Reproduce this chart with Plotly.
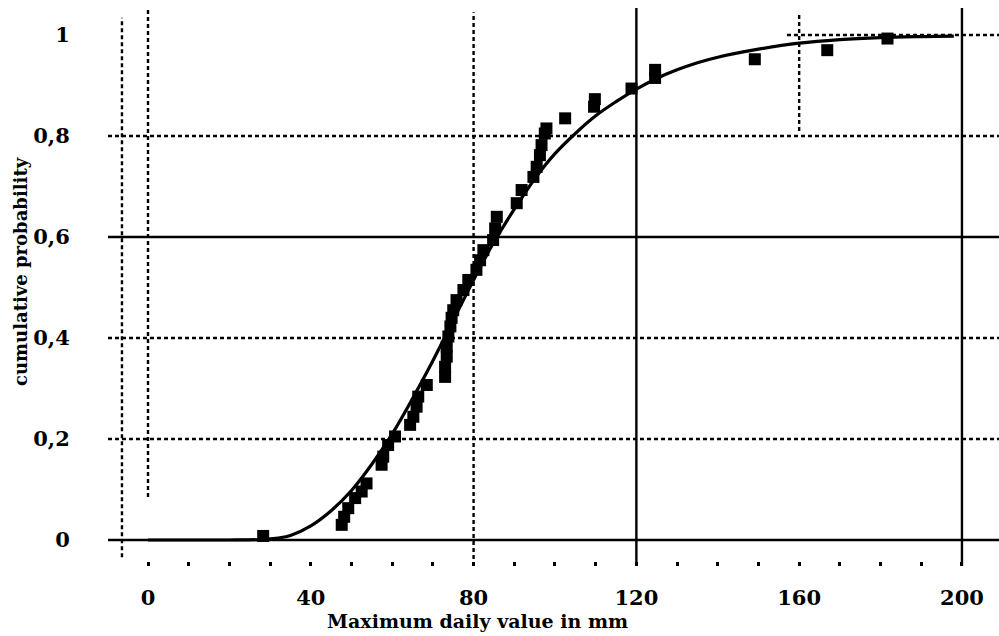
import plotly.graph_objects as go

# ---- data ----
curve_x = [0, 10, 20, 28, 32, 35, 40, 45, 50, 55, 60, 65, 70, 75, 80, 85, 90, 95,
           100, 105, 110, 115, 120, 125, 130, 135, 140, 150, 160, 170, 180, 190, 198]
curve_y = [0, 0, 0, 0.001, 0.004, 0.009, 0.028, 0.058, 0.098, 0.15, 0.21, 0.28, 0.355,
           0.435, 0.515, 0.59, 0.655, 0.715, 0.765, 0.805, 0.84, 0.868, 0.893, 0.914,
           0.931, 0.945, 0.956, 0.972, 0.984, 0.991, 0.995, 0.997, 0.998]

obs_x = [28.3, 47.6, 48.2, 49.2, 50.9, 52.5, 53.7, 57.4, 57.8, 59.0, 60.7, 64.4, 65.2,
         66.0, 66.4, 68.5, 73.0, 73.0, 73.4, 73.4, 73.8, 74.3, 74.6, 75.0, 75.8, 77.5,
         78.7, 80.7, 81.6, 82.4, 84.8, 85.3, 85.7, 90.6, 91.8, 94.7, 95.5, 96.3, 96.7,
         97.5, 97.9, 102.5, 109.6, 109.8, 118.8, 124.6, 124.6, 149.1, 166.9, 181.7]
obs_y = [0.008, 0.030, 0.046, 0.063, 0.083, 0.096, 0.112, 0.149, 0.165, 0.188, 0.205,
         0.228, 0.244, 0.264, 0.284, 0.307, 0.323, 0.343, 0.363, 0.383, 0.403, 0.423,
         0.44, 0.455, 0.475, 0.495, 0.515, 0.535, 0.554, 0.574, 0.594, 0.617, 0.640,
         0.667, 0.693, 0.719, 0.739, 0.762, 0.782, 0.805, 0.815, 0.835, 0.858, 0.873,
         0.894, 0.915, 0.931, 0.952, 0.970, 0.993]

x_ticks = [0, 40, 80, 120, 160, 200]
y_ticks = [0, 0.2, 0.4, 0.6, 0.8, 1]

x_title = "Maximum daily value in mm"
y_title = "cumulative probability"

# ---- figure ----
FONT = "DejaVu Serif"
DOT = "4px,3px"
fig = go.Figure()

fig.add_trace(go.Scatter(x=curve_x, y=curve_y, mode="lines", line_shape="spline",
                         line=dict(color="black", width=3.2), hoverinfo="skip",
                         showlegend=False))
fig.add_trace(go.Scatter(x=obs_x, y=obs_y, mode="markers",
                         marker=dict(symbol="square", size=12, color="black",
                                     line=dict(width=0)),
                         showlegend=False))

X0, X1 = -9.83, 209.1
Y0, Y1 = -0.0515, 1.0535

shapes = []
def vline(x, y0, y1, dash):
    shapes.append(dict(type="line", xref="x", yref="y", x0=x, x1=x, y0=y0, y1=y1,
                       line=dict(color="black", width=2.4, dash=dash), layer="below"))
def hline(y, x0, x1, dash):
    shapes.append(dict(type="line", xref="x", yref="y", x0=x0, x1=x1, y0=y, y1=y,
                       line=dict(color="black", width=2.4, dash=dash), layer="below"))

# horizontal grid
for yv in y_ticks:
    if yv in (0, 0.6):
        hline(yv, X0, X1, "solid")
    elif yv == 1:
        hline(yv, 157, X1, DOT)
    else:
        hline(yv, X0, X1, DOT)
# vertical grid
vline(-6.4, -0.034, 1.034, DOT)
for xv in x_ticks:
    if xv == 0:
        vline(xv, 0.085, 1.05, DOT)
    elif xv == 80:
        vline(xv, Y0, 1.045, DOT)
    elif xv in (120, 200):
        vline(xv, Y0, Y1, "solid")
    elif xv == 160:
        vline(xv, 0.81, 1.045, DOT)

fig.update_layout(
    width=999, height=636,
    margin=dict(l=108, r=0, t=8, b=70, autoexpand=False),
    paper_bgcolor="white", plot_bgcolor="white",
    separators=", ",
    shapes=shapes,
    font=dict(family=FONT, color="black", size=21),
    xaxis=dict(range=[X0, X1], tickvals=x_ticks, showgrid=False, zeroline=False,
               showline=False, ticks="outside", ticklen=0, ticklabelstandoff=13,
               automargin=False,
               tickfont=dict(family=FONT, size=21, weight="bold"),
               minor=dict(ticks="inside", dtick=10, tick0=0, ticklen=4,
                          tickwidth=2.5, tickcolor="black", showgrid=False)),
    yaxis=dict(range=[Y0, Y1], tickvals=y_ticks, showgrid=False, zeroline=False,
               showline=False, ticks="outside", ticklen=0, ticklabelstandoff=33,
               automargin=False, tickformat=".1~f",
               tickfont=dict(family=FONT, size=21, weight="bold")),
    annotations=[
        dict(text=x_title, xref="x", yref="paper", x=81, y=0, yshift=-55,
             xanchor="center", yanchor="middle", showarrow=False,
             font=dict(family=FONT, size=19, weight="bold")),
        dict(text=y_title, xref="paper", yref="paper", x=0, xshift=-88,
             xanchor="center", yanchor="middle",
             y=0.5, yshift=15, textangle=-90, showarrow=False,
             font=dict(family=FONT, size=18, weight="bold")),
    ],
)

fig.write_html("out.html", config={"displayModeBar": False},
               post_script="document.body.style.margin='0';")
